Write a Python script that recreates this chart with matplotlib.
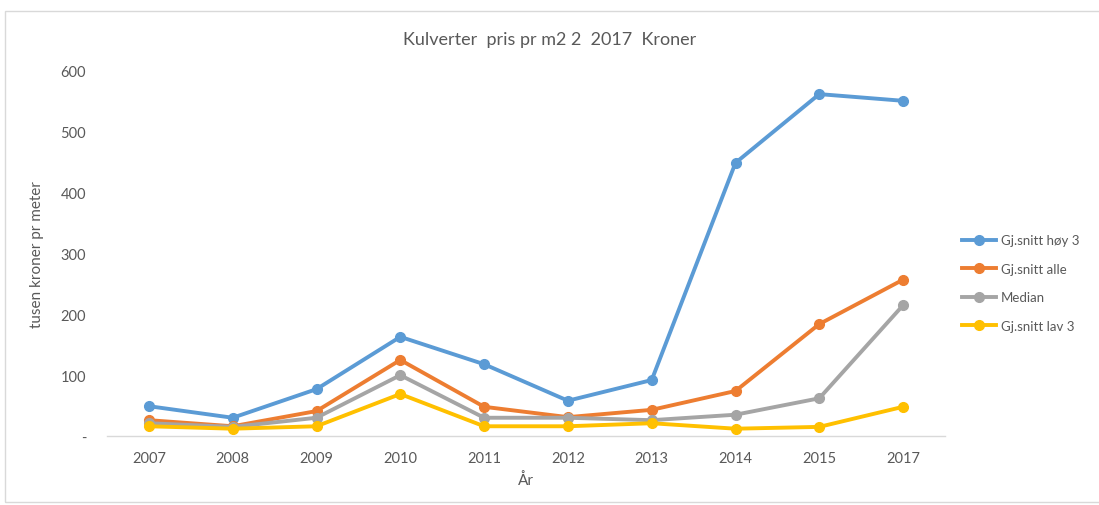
import matplotlib
matplotlib.use("Agg")
import matplotlib.pyplot as plt
from matplotlib.lines import Line2D
from matplotlib.patches import Rectangle

years = ["2007", "2008", "2009", "2010", "2011", "2012", "2013", "2014", "2015", "2017"]
hoy3 = [49, 30, 77, 163, 118, 58, 92, 449, 562, 551]
alle = [26, 16, 41, 125, 48, 31, 43, 74, 184, 257]
median = [21, 15, 30, 100, 30, 30, 26, 35, 62, 215]
lav3 = [16, 12, 16, 69, 16, 16, 21, 12, 15, 48]

series = [
    ("Gj.snitt høy 3", hoy3, "#5B9BD5"),
    ("Gj.snitt alle", alle, "#ED7D31"),
    ("Median", median, "#A5A5A5"),
    ("Gj.snitt lav 3", lav3, "#FFC000"),
]
yticks = [0, 100, 200, 300, 400, 500, 600]
yticklabels = ["-", "100", "200", "300", "400", "500", "600"]

plt.rcParams['font.family'] = ['Lato', 'DejaVu Sans']
txt = "#595959"

fig = plt.figure(figsize=(10.99, 5.06), dpi=100)
fig.patches.append(Rectangle((5/1099, 1 - 503/506), 1.2, (503-12)/506, transform=fig.transFigure,
                             fill=False, edgecolor="#d9d9d9", linewidth=1.0))
ax = fig.add_axes([107/1099, 1 - 437/506, (945-107)/1099, (437-72)/506])

x = list(range(len(years)))
for name, vals, col in series:
    ax.plot(x, vals, color=col, linewidth=2.8, marker='o', markersize=7, label=name,
            solid_capstyle='round', solid_joinstyle='round')

ax.set_xlim(-0.5, len(years) - 0.5)
ax.set_ylim(0, 600)
ax.set_xticks(x)
ax.set_xticklabels(years, color=txt, fontsize=10.5)
ax.set_yticks(yticks)
ax.set_yticklabels(yticklabels, color=txt, fontsize=10.5)
ax.tick_params(axis='x', length=0, pad=11)
ax.tick_params(axis='y', length=0, pad=15)
for s in ['top', 'right', 'left']:
    ax.spines[s].set_visible(False)
ax.spines['bottom'].set_color("#d9d9d9")
ax.spines['bottom'].set_linewidth(1.0)

ax.set_xlabel("År", color=txt, fontsize=11, labelpad=5)
ax.set_ylabel("tusen kroner pr meter", color=txt, fontsize=11, labelpad=12)
fig.text(0.5, 1 - 40/506, "Kulverter  pris pr m2 2  2017  Kroner", ha='center', va='center',
         color=txt, fontsize=13)

handles = [Line2D([0], [0], color=c, linewidth=2.8, marker='o', markersize=7) for _, _, c in series]
fig.legend(handles, [n for n, _, _ in series], loc='center left',
           bbox_to_anchor=(962/1099, 1 - 284/506), frameon=False, fontsize=9.5,
           labelcolor=txt, handlelength=2.6, handletextpad=0.35, labelspacing=1.25,
           borderaxespad=0, borderpad=0)

fig.savefig("out.png", dpi=100)
